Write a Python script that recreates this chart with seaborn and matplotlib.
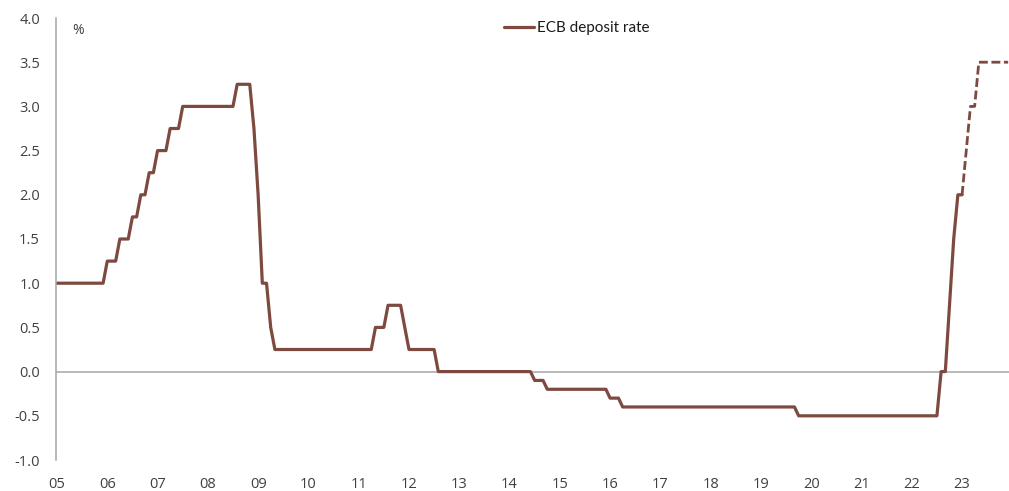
import numpy as np
import pandas as pd
import matplotlib
matplotlib.use("Agg")
import matplotlib.pyplot as plt
from matplotlib.lines import Line2D
import seaborn as sns

# ECB deposit facility rate (%), value at the start of each month
rate_2005 = [1.00, 1.00, 1.00, 1.00, 1.00, 1.00, 1.00, 1.00, 1.00, 1.00, 1.00, 1.00]
rate_2006 = [1.25, 1.25, 1.25, 1.50, 1.50, 1.50, 1.75, 1.75, 2.00, 2.00, 2.25, 2.25]
rate_2007 = [2.50, 2.50, 2.50, 2.75, 2.75, 2.75, 3.00, 3.00, 3.00, 3.00, 3.00, 3.00]
rate_2008 = [3.00, 3.00, 3.00, 3.00, 3.00, 3.00, 3.00, 3.25, 3.25, 3.25, 3.25, 2.75]
rate_2009 = [2.00, 1.00, 1.00, 0.50, 0.25, 0.25, 0.25, 0.25, 0.25, 0.25, 0.25, 0.25]
rate_2010 = [0.25, 0.25, 0.25, 0.25, 0.25, 0.25, 0.25, 0.25, 0.25, 0.25, 0.25, 0.25]
rate_2011 = [0.25, 0.25, 0.25, 0.25, 0.50, 0.50, 0.50, 0.75, 0.75, 0.75, 0.75, 0.50]
rate_2012 = [0.25, 0.25, 0.25, 0.25, 0.25, 0.25, 0.25, 0.00, 0.00, 0.00, 0.00, 0.00]
rate_2013 = [0.00, 0.00, 0.00, 0.00, 0.00, 0.00, 0.00, 0.00, 0.00, 0.00, 0.00, 0.00]
rate_2014 = [0.00, 0.00, 0.00, 0.00, 0.00, 0.00, -0.10, -0.10, -0.10, -0.20, -0.20, -0.20]
rate_2015 = [-0.20, -0.20, -0.20, -0.20, -0.20, -0.20, -0.20, -0.20, -0.20, -0.20, -0.20, -0.20]
rate_2016 = [-0.30, -0.30, -0.30, -0.40, -0.40, -0.40, -0.40, -0.40, -0.40, -0.40, -0.40, -0.40]
rate_2017 = [-0.40, -0.40, -0.40, -0.40, -0.40, -0.40, -0.40, -0.40, -0.40, -0.40, -0.40, -0.40]
rate_2018 = [-0.40, -0.40, -0.40, -0.40, -0.40, -0.40, -0.40, -0.40, -0.40, -0.40, -0.40, -0.40]
rate_2019 = [-0.40, -0.40, -0.40, -0.40, -0.40, -0.40, -0.40, -0.40, -0.40, -0.50, -0.50, -0.50]
rate_2020 = [-0.50, -0.50, -0.50, -0.50, -0.50, -0.50, -0.50, -0.50, -0.50, -0.50, -0.50, -0.50]
rate_2021 = [-0.50, -0.50, -0.50, -0.50, -0.50, -0.50, -0.50, -0.50, -0.50, -0.50, -0.50, -0.50]
rate_2022 = [-0.50, -0.50, -0.50, -0.50, -0.50, -0.50, -0.50, 0.00, 0.00, 0.75, 1.50, 2.00]
rate_2023 = [2.00]

# Expected path for 2023 (dashed)
forecast_2023 = [2.00, 2.50, 3.00, 3.00, 3.50, 3.50, 3.50, 3.50, 3.50, 3.50, 3.50, 3.50]

year_labels = ["05", "06", "07", "08", "09", "10", "11", "12", "13", "14",
               "15", "16", "17", "18", "19", "20", "21", "22", "23"]
y_ticks = [-1.0, -0.5, 0.0, 0.5, 1.0, 1.5, 2.0, 2.5, 3.0, 3.5, 4.0]

actual = (rate_2005 + rate_2006 + rate_2007 + rate_2008 + rate_2009 + rate_2010
          + rate_2011 + rate_2012 + rate_2013 + rate_2014 + rate_2015 + rate_2016
          + rate_2017 + rate_2018 + rate_2019 + rate_2020 + rate_2021 + rate_2022
          + rate_2023)

df_actual = pd.DataFrame({"month": np.arange(len(actual)), "rate": actual})
start_fc = 12 * (len(year_labels) - 1)
df_fc = pd.DataFrame({"month": start_fc + np.arange(len(forecast_2023)),
                      "rate": forecast_2023})

sns.set_style("white")
plt.rcParams["font.family"] = ["Open Sans", "DejaVu Sans"]

LINE = "#7E4A40"
GREY = "#A6A6A6"
TEXT = "#404040"

W, H = 1009, 491
fig = plt.figure(figsize=(W / 100, H / 100), dpi=100)
ax = fig.add_axes([56 / W, 1 - 460 / H, (1009 - 56) / W, (460 - 18) / H])

sns.lineplot(data=df_actual, x="month", y="rate", ax=ax, color=LINE,
             linewidth=2.3, legend=False)
sns.lineplot(data=df_fc, x="month", y="rate", ax=ax, color=LINE,
             linewidth=2.0, linestyle=(0, (3.2, 1.3)), legend=False)

ax.set_xlim(-0.24, 227.2)
ax.set_ylim(-1.0, 4.0)
ax.axhline(0, color=GREY, linewidth=1.1, zorder=0)

ax.set_xticks(np.arange(0, 12 * len(year_labels), 12))
ax.set_xticklabels(year_labels)
ax.set_yticks(y_ticks)
ax.set_yticklabels([f"{v:.1f}" for v in y_ticks])
ax.tick_params(axis="x", length=0, pad=12, labelsize=10.5, labelcolor=TEXT)
ax.tick_params(axis="y", length=0, pad=11.5, labelsize=10.5, labelcolor=TEXT)
ax.set_xlabel("")
ax.set_ylabel("")

for side in ["top", "right", "bottom"]:
    ax.spines[side].set_visible(False)
ax.spines["left"].set_color(GREY)
ax.spines["left"].set_linewidth(1.1)

fig.text(78 / W, 1 - 30 / H, "%", fontsize=10, color=TEXT, ha="center", va="center")

handle = Line2D([], [], color=LINE, linewidth=2.3)
ax.legend(handles=[handle], labels=["ECB deposit rate"], loc="center left",
          bbox_to_anchor=(504 / W, 1 - 28 / H), bbox_transform=fig.transFigure,
          frameon=False, borderpad=0, borderaxespad=0, handlelength=1.95,
          handletextpad=0.2, prop={"family": ["Lato", "DejaVu Sans"], "size": 11},
          labelcolor="#1a1a1a")

fig.savefig("out.png", dpi=100)
